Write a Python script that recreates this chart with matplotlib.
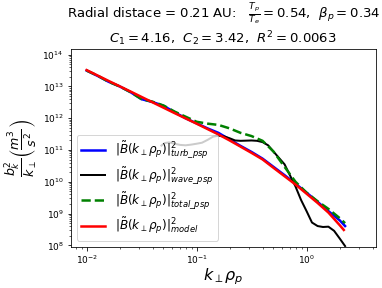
import matplotlib
matplotlib.use("Agg")
import matplotlib.pyplot as plt

# wavenumber grid (k_perp rho_p)
k_grid = [0.01, 0.0126, 0.0158, 0.02, 0.0251, 0.0316, 0.0398, 0.0501, 0.0631, 0.0794,
          0.1, 0.126, 0.158, 0.2, 0.251, 0.316, 0.398, 0.501, 0.631, 0.794,
          1.0, 1.26, 1.58, 2.0, 2.24]

turb_psp = [3.16e13, 2.14e13, 1.41e13, 1.00e13, 6.61e12, 3.98e12, 3.24e12, 2.45e12, 1.55e12, 1.00e12,
            6.92e11, 4.79e11, 3.47e11, 2.14e11, 1.35e11, 8.71e10, 5.37e10, 2.95e10, 1.62e10, 8.71e9,
            4.57e9, 2.34e9, 1.20e9, 6.17e8, 4.07e8]

total_psp = [3.16e13, 2.19e13, 1.41e13, 1.00e13, 6.61e12, 3.98e12, 3.31e12, 2.51e12, 1.62e12, 1.12e12,
             7.76e11, 6.76e11, 6.17e11, 4.79e11, 3.47e11, 2.75e11, 1.95e11, 8.91e10, 2.95e10, 1.00e10,
             4.57e9, 2.45e9, 1.41e9, 7.24e8, 5.01e8]

k_model = [0.01, 0.0158, 0.0251, 0.0398, 0.0631, 0.1, 0.158, 0.2, 0.251, 0.316,
           0.398, 0.501, 0.631, 0.794, 1.0, 1.26, 1.58, 2.0, 2.18]
model = [3.27e13, 1.50e13, 6.92e12, 3.16e12, 1.45e12, 6.76e11, 3.09e11, 2.00e11, 1.28e11, 8.13e10,
         5.07e10, 2.75e10, 1.50e10, 8.22e9, 4.23e9, 2.17e9, 1.08e9, 4.35e8, 3.07e8]

k_wave = [0.0479, 0.0513, 0.0562, 0.0631, 0.0708, 0.0794, 0.0891, 0.1, 0.112, 0.126,
          0.141, 0.158, 0.178, 0.2, 0.224, 0.251, 0.316, 0.355, 0.398, 0.447,
          0.501, 0.562, 0.631, 0.708, 0.794, 0.891, 1.0, 1.12, 1.26, 1.41,
          1.58, 1.78, 2.0, 2.24]
wave_psp = [1.38e11, 1.66e11, 1.74e11, 1.58e11, 1.45e11, 1.41e11, 1.48e11, 1.58e11, 1.70e11, 2.09e11,
            2.63e11, 2.82e11, 2.69e11, 2.34e11, 2.00e11, 1.95e11, 2.00e11, 1.95e11, 1.78e11, 1.41e11,
            8.91e10, 5.62e10, 3.55e10, 1.58e10, 7.08e9, 2.69e9, 1.20e9, 5.25e8, 4.07e8, 3.80e8,
            3.89e8, 2.88e8, 1.66e8, 9.55e7]

labels = [r"$|\tilde{B}(k_\perp\rho_p)|^2_{turb\_psp}$",
          r"$|\tilde{B}(k_\perp\rho_p)|^2_{wave\_psp}$",
          r"$|\tilde{B}(k_\perp\rho_p)|^2_{total\_psp}$",
          r"$|\tilde{B}(k_\perp\rho_p)|^2_{model}$"]

fig = plt.figure(figsize=(382 / 72, 288 / 72), dpi=72)
ax = fig.add_axes([0.185, 0.1434, 0.799, 0.6856])

ax.plot(k_grid, turb_psp, color="blue", lw=2.5, label=labels[0])
ax.plot(k_wave, wave_psp, color="black", lw=2, label=labels[1])
ax.plot(k_grid, total_psp, color="green", lw=2.5, ls="--", label=labels[2])
ax.plot(k_model, model, color="red", lw=2.5, label=labels[3])

ax.set_xscale("log")
ax.set_yscale("log")
ax.set_xlim(0.00716, 4.27)
ax.set_ylim(9.12e7, 1.48e14)
ax.tick_params(labelsize=9)

ax.set_xlabel(r"$k_\perp\rho_p$", fontsize=16, labelpad=0)
ax.set_ylabel(r"$\frac{b_k^2}{k_\perp}\left(\frac{m^3}{s^2}\right)$", fontsize=18, labelpad=2)
ax.set_title("Radial distace = 0.21 AU:   " + r"$\frac{T_p}{T_e} = 0.54$,  $\beta_p = 0.34$" + "\n"
             + r"$C_1 = 4.16$,  $C_2 = 3.42$,  $R^2 = 0.0063$", fontsize=13.2)

ax.legend(loc="lower left", fontsize=12, labelspacing=0.3)

fig.savefig("out.png", dpi=72)
